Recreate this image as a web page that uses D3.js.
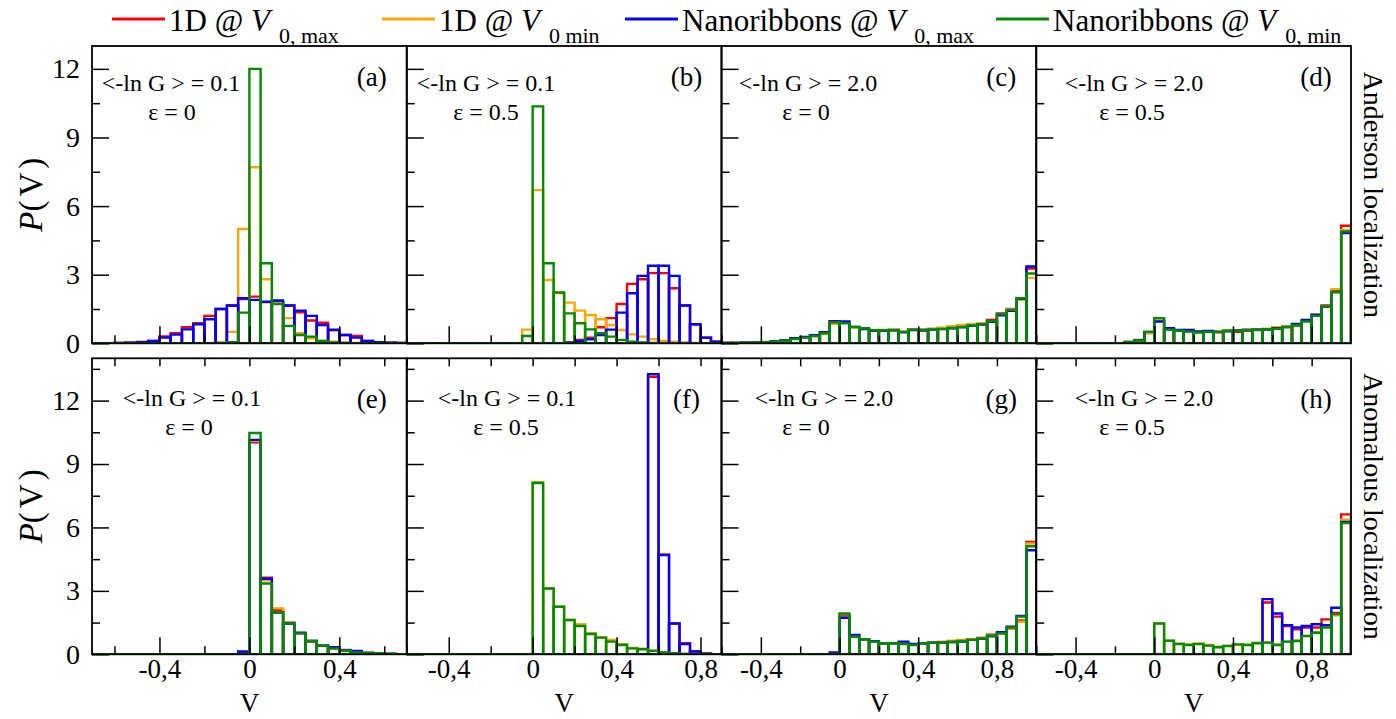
<!DOCTYPE html>
<html>
<head>
<meta charset="utf-8">
<script src="https://cdn.jsdelivr.net/npm/d3@7"></script>
<style>
  body { margin: 0; background: #fff; }
  svg text { font-family: "Liberation Serif", "Times New Roman", serif; fill: #000; }
</style>
</head>
<body>
<svg id="chart" width="1396" height="719"></svg>
<script>
// DATA (bin width 0.05, each array starts at the left edge of its panel)
const BIN = 0.05;
const seriesColors = ["#ff0000", "#ffa500", "#0000ff", "#008b00"];

// (a) Anderson, <-lnG>=0.1, eps=0, bins from -0.7
const aRed    = [0, 0, 0.01, 0.03, 0.06, 0.1, 0.3, 0.44, 0.7, 0.88, 1.2, 1.5, 1.65, 1.93, 2.04, 1.8, 1.8, 1.65, 1.36, 1.0, 0.9, 0.6, 0.36, 0.32, 0.1, 0.05, 0.03, 0.01];
const aOrange = [0, 0, 0, 0, 0, 0, 0, 0, 0, 0, 0, 0.05, 0.5, 5.0, 7.7, 2.8, 1.75, 1.1, 0.44, 0.22, 0.1, 0.07, 0.04, 0.02, 0, 0, 0, 0];
const aBlue   = [0, 0, 0.01, 0.03, 0.05, 0.1, 0.25, 0.38, 0.61, 0.83, 1.05, 1.5, 1.65, 1.97, 1.9, 1.82, 1.87, 1.65, 1.43, 1.2, 0.8, 0.58, 0.36, 0.25, 0.1, 0.05, 0.03, 0.01];
const aGreen  = [0, 0, 0, 0, 0, 0, 0, 0, 0, 0, 0, 0, 0.05, 1.34, 12.0, 3.5, 1.72, 0.76, 0.36, 0.29, 0.1, 0.04, 0.02, 0, 0, 0, 0, 0];

// (b) Anderson, <-lnG>=0.1, eps=0.5, bins from -0.6
const bRed    = [0, 0, 0, 0, 0, 0, 0, 0, 0, 0, 0, 0, 0, 0, 0, 0.02, 0.15, 0.25, 0.7, 1.1, 1.72, 2.6, 2.8, 3.07, 3.07, 2.41, 1.65, 0.83, 0.25, 0.07];
const bOrange = [0, 0, 0, 0, 0, 0, 0, 0, 0, 0, 0, 0.6, 6.7, 2.77, 2.2, 1.78, 1.43, 1.24, 1.05, 0.8, 0.58, 0.39, 0.29, 0.18, 0.1, 0.07, 0.04, 0.02, 0, 0];
const bBlue   = [0, 0, 0, 0, 0, 0, 0, 0, 0, 0, 0, 0, 0, 0, 0, 0.04, 0.1, 0.18, 0.36, 0.6, 1.34, 2.19, 2.95, 3.39, 3.39, 2.95, 1.65, 0.83, 0.25, 0.07];
const bGreen  = [0, 0, 0, 0, 0, 0, 0, 0, 0, 0, 0, 0.32, 10.36, 3.5, 2.22, 1.31, 0.88, 0.61, 0.44, 0.29, 0.15, 0.07, 0.04, 0.02, 0, 0, 0, 0, 0, 0];

// (c) Anderson, <-lnG>=2.0, eps=0, bins from -0.6
const cRed    = [0.02, 0.02, 0.03, 0.04, 0.05, 0.08, 0.12, 0.2, 0.27, 0.33, 0.45, 0.95, 0.92, 0.7, 0.64, 0.56, 0.57, 0.58, 0.5, 0.6, 0.6, 0.63, 0.66, 0.72, 0.78, 0.8, 0.86, 1.02, 1.3, 1.5, 1.95, 3.27];
const cOrange = [0.02, 0.02, 0.03, 0.04, 0.06, 0.08, 0.12, 0.2, 0.25, 0.32, 0.42, 0.85, 0.9, 0.7, 0.65, 0.58, 0.58, 0.58, 0.52, 0.62, 0.6, 0.63, 0.68, 0.75, 0.8, 0.84, 0.88, 0.97, 1.25, 1.48, 1.9, 2.86];
const cBlue   = [0.02, 0.02, 0.03, 0.04, 0.05, 0.08, 0.12, 0.22, 0.28, 0.35, 0.48, 0.97, 0.95, 0.72, 0.62, 0.55, 0.55, 0.57, 0.48, 0.58, 0.56, 0.6, 0.62, 0.66, 0.7, 0.76, 0.82, 0.94, 1.22, 1.42, 1.95, 3.36];
const cGreen  = [0.02, 0.02, 0.03, 0.04, 0.05, 0.07, 0.1, 0.19, 0.25, 0.32, 0.44, 0.92, 0.88, 0.72, 0.66, 0.57, 0.57, 0.58, 0.5, 0.6, 0.58, 0.6, 0.63, 0.67, 0.72, 0.78, 0.84, 0.97, 1.28, 1.46, 1.97, 3.05];

// (d) Anderson, <-lnG>=2.0, eps=0.5, bins from -0.6
const dRed    = [0, 0, 0, 0, 0, 0, 0, 0, 0, 0.05, 0.15, 0.45, 0.98, 0.62, 0.55, 0.52, 0.5, 0.5, 0.48, 0.55, 0.5, 0.56, 0.6, 0.62, 0.66, 0.72, 0.78, 0.98, 1.2, 1.66, 2.3, 5.14];
const dOrange = [0, 0, 0, 0, 0, 0, 0, 0, 0, 0.05, 0.12, 0.45, 1.0, 0.6, 0.56, 0.52, 0.5, 0.5, 0.52, 0.55, 0.57, 0.6, 0.62, 0.64, 0.7, 0.75, 0.82, 1.0, 1.25, 1.62, 2.37, 4.95];
const dBlue   = [0, 0, 0, 0, 0, 0, 0, 0, 0, 0.05, 0.14, 0.5, 0.95, 0.66, 0.58, 0.58, 0.52, 0.54, 0.5, 0.52, 0.56, 0.58, 0.6, 0.6, 0.66, 0.72, 0.85, 1.02, 1.25, 1.6, 2.25, 4.82];
const dGreen  = [0, 0, 0, 0, 0, 0, 0, 0, 0, 0.07, 0.12, 0.5, 1.1, 0.6, 0.55, 0.51, 0.47, 0.5, 0.5, 0.55, 0.55, 0.58, 0.58, 0.61, 0.64, 0.7, 0.8, 0.95, 1.2, 1.6, 2.23, 4.89];

// (e) Anomalous, <-lnG>=0.1, eps=0, bins from -0.7
const eRed    = [0, 0, 0, 0, 0, 0, 0, 0, 0, 0, 0, 0, 0, 0.05, 10.03, 3.62, 2.1, 1.5, 0.99, 0.6, 0.41, 0.28, 0.2, 0.1, 0.06, 0.04, 0.02, 0.01];
const eOrange = [0, 0, 0, 0, 0, 0, 0, 0, 0, 0, 0, 0, 0, 0.02, 10.1, 3.5, 2.17, 1.46, 1.0, 0.63, 0.41, 0.3, 0.18, 0.12, 0.06, 0.04, 0.02, 0.01];
const eBlue   = [0, 0, 0, 0, 0, 0, 0, 0, 0, 0, 0, 0, 0, 0.13, 10.14, 3.57, 1.98, 1.46, 1.02, 0.63, 0.41, 0.33, 0.18, 0.16, 0.06, 0.04, 0.02, 0.01];
const eGreen  = [0, 0, 0, 0, 0, 0, 0, 0, 0, 0, 0, 0, 0, 0, 10.47, 3.35, 1.98, 1.46, 0.99, 0.63, 0.41, 0.28, 0.16, 0.09, 0.06, 0.05, 0.03, 0.01];

// (f) Anomalous, <-lnG>=0.1, eps=0.5, bins from -0.6
const fRed    = [0, 0, 0, 0, 0, 0, 0, 0, 0, 0, 0, 0, 0, 0, 0, 0, 0, 0, 0, 0, 0, 0, 0, 13.13, 4.72, 1.46, 0.52, 0.14, 0.04, 0];
const fOrange = [0, 0, 0, 0, 0, 0, 0, 0, 0, 0, 0, 0, 8.14, 3.11, 2.25, 1.62, 1.42, 1.0, 0.8, 0.68, 0.48, 0.3, 0.26, 0.18, 0.1, 0.05, 0.03, 0, 0, 0];
const fBlue   = [0, 0, 0, 0, 0, 0, 0, 0, 0, 0, 0, 0, 0, 0, 0, 0, 0, 0, 0, 0, 0, 0, 0, 13.25, 4.69, 1.46, 0.49, 0.13, 0.03, 0];
const fGreen  = [0, 0, 0, 0, 0, 0, 0, 0, 0, 0, 0, 0, 8.1, 3.11, 2.25, 1.62, 1.34, 0.96, 0.79, 0.6, 0.44, 0.28, 0.24, 0.16, 0.09, 0.05, 0.02, 0, 0, 0];

// (g) Anomalous, <-lnG>=2.0, eps=0, bins from -0.6
const gRed    = [0, 0, 0, 0, 0, 0, 0, 0, 0, 0, 0, 0.03, 1.85, 0.9, 0.72, 0.6, 0.52, 0.52, 0.5, 0.48, 0.52, 0.55, 0.56, 0.6, 0.63, 0.7, 0.77, 0.93, 0.99, 1.22, 1.6, 5.31];
const gOrange = [0, 0, 0, 0, 0, 0, 0, 0, 0, 0, 0, 0.02, 1.9, 0.88, 0.68, 0.6, 0.52, 0.52, 0.5, 0.47, 0.52, 0.57, 0.6, 0.64, 0.68, 0.72, 0.77, 0.88, 0.97, 1.22, 1.54, 5.24];
const gBlue   = [0, 0, 0, 0, 0, 0, 0, 0, 0, 0, 0, 0.09, 1.73, 0.91, 0.71, 0.62, 0.52, 0.52, 0.6, 0.49, 0.52, 0.55, 0.55, 0.58, 0.6, 0.68, 0.73, 0.85, 1.05, 1.3, 1.81, 4.92];
const gGreen  = [0, 0, 0, 0, 0, 0, 0, 0, 0, 0, 0, 0.02, 1.93, 0.83, 0.71, 0.6, 0.52, 0.52, 0.49, 0.44, 0.52, 0.55, 0.55, 0.58, 0.63, 0.68, 0.75, 0.88, 0.99, 1.27, 1.78, 5.11];

// (h) Anomalous, <-lnG>=2.0, eps=0.5, bins from -0.6
const hRed    = [0, 0, 0, 0, 0, 0, 0, 0, 0, 0, 0, 0, 0, 0, 0, 0, 0, 0, 0, 0, 0, 0, 0, 2.45, 1.78, 1.34, 1.18, 1.27, 1.27, 1.65, 1.95, 6.62];
const hOrange = [0, 0, 0, 0, 0, 0, 0, 0, 0, 0, 0, 0, 1.46, 0.64, 0.5, 0.46, 0.5, 0.44, 0.36, 0.4, 0.44, 0.45, 0.55, 0.56, 0.46, 0.6, 0.65, 0.88, 1.05, 1.3, 1.85, 6.37];
const hBlue   = [0, 0, 0, 0, 0, 0, 0, 0, 0, 0, 0, 0, 0, 0, 0, 0, 0, 0, 0, 0, 0, 0, 0, 2.61, 1.93, 1.38, 1.27, 1.34, 1.42, 1.38, 2.2, 6.26];
const hGreen  = [0, 0, 0, 0, 0, 0, 0, 0, 0, 0, 0, 0, 1.46, 0.64, 0.49, 0.44, 0.49, 0.41, 0.33, 0.39, 0.47, 0.44, 0.52, 0.55, 0.44, 0.6, 0.63, 0.86, 1.02, 1.27, 1.9, 6.21];

const xMajorA = [-0.4, 0, 0.4];
const xMinorA = [-0.6, -0.2, 0.2, 0.6];
const xMajorB = [-0.4, 0, 0.4, 0.8];
const xMinorB = [-0.6, -0.2, 0.2, 0.6];
const yMajor = [0, 3, 6, 9, 12];
const yMinorTop = [1.5, 4.5, 7.5, 10.5];
const yMinorBottom = [1.5, 4.5, 7.5, 10.5, 13.5];

const panels = [
  { tag: "(a)", row: 0, col: 0, xDomain: [-0.7, 0.7], series: [aRed, aOrange, aBlue, aGreen], lnG: "0.1", eps: "0",   c1: 171,  c2: 172 },
  { tag: "(b)", row: 0, col: 1, xDomain: [-0.6, 0.9], series: [bRed, bOrange, bBlue, bGreen], lnG: "0.1", eps: "0.5", c1: 486,  c2: 486 },
  { tag: "(c)", row: 0, col: 2, xDomain: [-0.6, 1.0], series: [cRed, cOrange, cBlue, cGreen], lnG: "2.0", eps: "0",   c1: 808,  c2: 806 },
  { tag: "(d)", row: 0, col: 3, xDomain: [-0.6, 1.0], series: [dRed, dOrange, dBlue, dGreen], lnG: "2.0", eps: "0.5", c1: 1134, c2: 1132 },
  { tag: "(e)", row: 1, col: 0, xDomain: [-0.7, 0.7], series: [eRed, eOrange, eBlue, eGreen], lnG: "0.1", eps: "0",   c1: 192,  c2: 189 },
  { tag: "(f)", row: 1, col: 1, xDomain: [-0.6, 0.9], series: [fRed, fOrange, fBlue, fGreen], lnG: "0.1", eps: "0.5", c1: 507,  c2: 506 },
  { tag: "(g)", row: 1, col: 2, xDomain: [-0.6, 1.0], series: [gRed, gOrange, gBlue, gGreen], lnG: "2.0", eps: "0",   c1: 824,  c2: 806 },
  { tag: "(h)", row: 1, col: 3, xDomain: [-0.6, 1.0], series: [hRed, hOrange, hBlue, hGreen], lnG: "2.0", eps: "0.5", c1: 1144, c2: 1132 }
];

// LAYOUT
const LEFT = 92, RIGHT = 1351;
const COLW = (RIGHT - LEFT) / 4;
const rows = [
  { top: 46, bottom: 343.3, yMax: 13, minor: yMinorTop, line1: 91, line2: 120, tagY: 86, side: "Anderson localization" },
  { top: 358.3, bottom: 654.3, yMax: 14, minor: yMinorBottom, line1: 406, line2: 435, tagY: 408, side: "Anomalous localization" }
];

const svg = d3.select("#chart");
const fmt = (v) => (v === 0 ? "0" : String(v).replace(".", ","));

function styleAxis(g, size) {
  g.select(".domain").remove();
  g.selectAll(".tick line").attr("stroke", "#000").attr("stroke-width", 1.5);
  g.selectAll(".tick text")
    .attr("font-size", size)
    .attr("fill", "#000");
}

panels.forEach((p, idx) => {
  const r = rows[p.row];
  const x0 = LEFT + p.col * COLW;
  const x1 = x0 + COLW;
  const x = d3.scaleLinear().domain(p.xDomain).range([x0, x1]);
  const y = d3.scaleLinear().domain([0, r.yMax]).range([r.bottom, r.top]);

  const clipId = "clip" + idx;
  svg.append("clipPath").attr("id", clipId)
    .append("rect").attr("x", x0).attr("y", r.top).attr("width", COLW).attr("height", r.bottom - r.top);

  const g = svg.append("g").attr("clip-path", `url(#${clipId})`);

  // histogram bars, drawn as outlined boxes
  p.series.forEach((vals, s) => {
    g.selectAll(null)
      .data(vals)
      .enter()
      .append("path")
      .attr("d", (v, i) => {
        const l = x(p.xDomain[0] + i * BIN);
        const rr = x(p.xDomain[0] + (i + 1) * BIN);
        return `M${l},${y(0)}V${y(v)}H${rr}V${y(0)}Z`;
      })
      .attr("fill", "none")
      .attr("stroke", seriesColors[s])
      .attr("stroke-width", 2.4)
      .attr("stroke-linejoin", "miter");
  });

  const xMajor = p.col === 0 ? xMajorA : xMajorB;
  const xMinor = p.col === 0 ? xMinorA : xMinorB;

  // bottom x ticks
  const bx = svg.append("g").attr("transform", `translate(0,${r.bottom})`);
  bx.call(d3.axisBottom(x).tickValues(xMajor).tickSizeInner(-17).tickSizeOuter(0).tickPadding(5)
    .tickFormat(p.row === 1 ? fmt : () => ""));
  styleAxis(bx, 27);
  const bxm = svg.append("g").attr("transform", `translate(0,${r.bottom})`);
  bxm.call(d3.axisBottom(x).tickValues(xMinor).tickSizeInner(-8).tickSizeOuter(0).tickFormat(() => ""));
  styleAxis(bxm, 10);

  // top x ticks only on lower row
  if (p.row === 1) {
    const tx = svg.append("g").attr("transform", `translate(0,${r.top})`);
    tx.call(d3.axisTop(x).tickValues(xMajor.concat(xMinor)).tickSizeInner(-8).tickSizeOuter(0).tickFormat(() => ""));
    styleAxis(tx, 10);
  }

  // left y ticks
  const ly = svg.append("g").attr("transform", `translate(${x0},0)`);
  ly.call(d3.axisLeft(y).tickValues(yMajor).tickSizeInner(-17).tickSizeOuter(0).tickPadding(12)
    .tickFormat(p.col === 0 ? d3.format("d") : () => ""));
  styleAxis(ly, 28);
  const lym = svg.append("g").attr("transform", `translate(${x0},0)`);
  lym.call(d3.axisLeft(y).tickValues(r.minor).tickSizeInner(-8).tickSizeOuter(0).tickFormat(() => ""));
  styleAxis(lym, 10);

  // frame
  svg.append("rect")
    .attr("x", x0).attr("y", r.top).attr("width", COLW).attr("height", r.bottom - r.top)
    .attr("fill", "none").attr("stroke", "#000").attr("stroke-width", 1.8);

  // annotations
  svg.append("text").attr("x", p.c1).attr("y", r.line1).attr("text-anchor", "middle")
    .attr("font-size", 24).text(`<-ln G > = ${p.lnG}`);
  svg.append("text").attr("x", p.c2).attr("y", r.line2).attr("text-anchor", "middle")
    .attr("font-size", 24).text(`\u03b5 = ${p.eps}`);
  svg.append("text").attr("x", x1 - 35).attr("y", r.tagY).attr("text-anchor", "middle")
    .attr("font-size", 27).text(p.tag);

  // x axis title on lower row
  if (p.row === 1) {
    svg.append("text").attr("x", (x0 + x1) / 2).attr("y", 712).attr("text-anchor", "middle")
      .attr("font-size", 27).text("V");
  }
});

// y titles and side labels
rows.forEach((r) => {
  const cy = (r.top + r.bottom) / 2;
  const t = svg.append("text")
    .attr("transform", `translate(42,${cy}) rotate(-90)`)
    .attr("text-anchor", "middle").attr("font-size", 33);
  t.append("tspan").attr("font-style", "italic").text("P");
  t.append("tspan").text("(");
  t.append("tspan").attr("dx", 4).text("V");
  t.append("tspan").attr("dx", 4).text(")");

  svg.append("text")
    .attr("transform", `translate(1364,${cy}) rotate(90)`)
    .attr("text-anchor", "middle").attr("font-size", 28)
    .text(r.side);
});

// LEGEND
const legendItems = [
  { main: "1D @ ", sub: "0, max", x: 112 },
  { main: "1D @ ", sub: "0 min", x: 382 },
  { main: "Nanoribbons @ ", sub: "0, max", x: 625 },
  { main: "Nanoribbons @ ", sub: "0, min", x: 996 }
];
const legend = svg.append("g");
legendItems.forEach((d, i) => {
  legend.append("line")
    .attr("x1", d.x).attr("x2", d.x + 53).attr("y1", 19).attr("y2", 19)
    .attr("stroke", seriesColors[i]).attr("stroke-width", 3);
  const t = legend.append("text").attr("x", d.x + 57).attr("y", 31).attr("font-size", 31);
  t.append("tspan").text(d.main);
  t.append("tspan").attr("font-style", "italic").text("V");
  t.append("tspan").attr("dx", 9).attr("dy", 12).attr("font-size", 22).text(d.sub);
});
</script>
</body>
</html>
